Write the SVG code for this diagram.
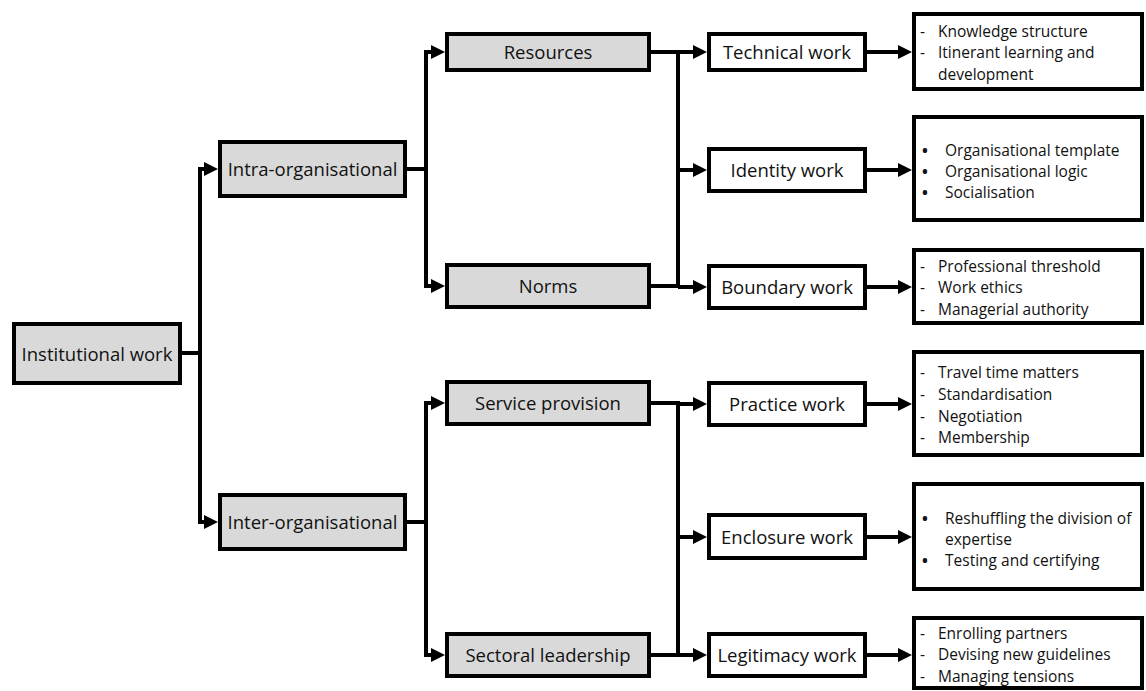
<svg xmlns="http://www.w3.org/2000/svg" width="1146" height="691" viewBox="0 0 1146 691">
<style>
.g{fill:#d9d9d9;stroke:#000;stroke-width:4}
.w{fill:#fff;stroke:#000;stroke-width:4}
.t{font-family:"Open Sans","Liberation Sans",sans-serif;font-size:18.5px;fill:#111;text-anchor:middle}
.l{font-family:"Open Sans","Liberation Sans",sans-serif;font-size:15.5px;fill:#111}
.b{font-family:"Open Sans","Liberation Sans",sans-serif;font-size:15.5px;fill:#111;font-weight:bold}
.c{fill:none;stroke:#000;stroke-width:4;marker-end:url(#ah)}
.n{fill:none;stroke:#000;stroke-width:4}
</style>
<defs>
<marker id="ah" markerUnits="userSpaceOnUse" markerWidth="14" markerHeight="14" refX="2" refY="7" orient="auto">
<path d="M0,0 L14,7 L0,14 z" fill="#000"/>
</marker>
</defs>
<rect width="1146" height="691" fill="#fff"/>
<g id="connectors">
<path class="n" d="M182,353 H200"/>
<path class="c" d="M200,353 V169 H206"/>
<path class="c" d="M200,353 V522 H206"/>
<path class="n" d="M407,169 H426"/>
<path class="c" d="M426,169 V52 H433"/>
<path class="c" d="M426,169 V286 H433"/>
<path class="n" d="M407,522 H426"/>
<path class="c" d="M426,522 V403 H433"/>
<path class="c" d="M426,522 V655 H433"/>
<path class="n" d="M651,52 H678 V287"/>
<path class="n" d="M651,286 H678"/>
<path class="c" d="M678,52 H695"/>
<path class="c" d="M678,170 H695"/>
<path class="c" d="M678,287 H695"/>
<path class="n" d="M651,403 H678 V655"/>
<path class="n" d="M651,655 H678"/>
<path class="c" d="M678,404 H695"/>
<path class="c" d="M678,537 H695"/>
<path class="c" d="M678,655 H695"/>
<path class="c" d="M867,52 H900"/>
<path class="c" d="M867,170 H900"/>
<path class="c" d="M867,287 H900"/>
<path class="c" d="M867,404 H900"/>
<path class="c" d="M867,537 H900"/>
<path class="c" d="M867,655 H900"/>
</g>
<g id="institutional-work"><rect class="g" x="14" y="324" width="166" height="59"/><text class="t" x="97" y="360.5">Institutional work</text></g>
<g id="intra-organisational"><rect class="g" x="220" y="142" width="185" height="54"/><text class="t" x="312.5" y="176">Intra-organisational</text></g>
<g id="inter-organisational"><rect class="g" x="220" y="495" width="185" height="54"/><text class="t" x="312.5" y="529">Inter-organisational</text></g>
<g id="resources"><rect class="g" x="447" y="34" width="202" height="36"/><text class="t" x="548" y="59">Resources</text></g>
<g id="norms"><rect class="g" x="447" y="265" width="202" height="42"/><text class="t" x="548" y="293">Norms</text></g>
<g id="service-provision"><rect class="g" x="447" y="382" width="202" height="42"/><text class="t" x="548" y="410">Service provision</text></g>
<g id="sectoral-leadership"><rect class="g" x="447" y="634" width="202" height="42"/><text class="t" x="548" y="662">Sectoral leadership</text></g>
<g id="technical-work"><rect class="w" x="709" y="34" width="156" height="36"/><text class="t" x="787" y="59">Technical work</text></g>
<g id="identity-work"><rect class="w" x="709" y="149" width="156" height="42"/><text class="t" x="787" y="177">Identity work</text></g>
<g id="boundary-work"><rect class="w" x="709" y="266" width="156" height="42"/><text class="t" x="787" y="294">Boundary work</text></g>
<g id="practice-work"><rect class="w" x="709" y="383" width="156" height="42"/><text class="t" x="787" y="411">Practice work</text></g>
<g id="enclosure-work"><rect class="w" x="709" y="515" width="156" height="43"/><text class="t" x="787" y="543.5">Enclosure work</text></g>
<g id="legitimacy-work"><rect class="w" x="709" y="634" width="156" height="42"/><text class="t" x="787" y="662">Legitimacy work</text></g>
<g id="technical-details"><rect class="w" x="914" y="14" width="228" height="75"/>
<text class="l" x="920" y="37">-</text><text class="l" x="938" y="37">Knowledge structure</text>
<text class="l" x="920" y="58">-</text><text class="l" x="938" y="58">Itinerant learning and</text>
<text class="l" x="938" y="80">development</text></g>
<g id="identity-details"><rect class="w" x="914" y="117" width="228" height="103"/>
<text class="b" x="922" y="156">•</text><text class="l" x="945" y="156">Organisational template</text>
<text class="b" x="922" y="177">•</text><text class="l" x="945" y="177">Organisational logic</text>
<text class="b" x="922" y="198">•</text><text class="l" x="945" y="198">Socialisation</text></g>
<g id="boundary-details"><rect class="w" x="914" y="250" width="228" height="73"/>
<text class="l" x="920" y="272">-</text><text class="l" x="938" y="272">Professional threshold</text>
<text class="l" x="920" y="293">-</text><text class="l" x="938" y="293">Work ethics</text>
<text class="l" x="920" y="315">-</text><text class="l" x="938" y="315">Managerial authority</text></g>
<g id="practice-details"><rect class="w" x="914" y="352" width="228" height="103"/>
<text class="l" x="920" y="378">-</text><text class="l" x="938" y="378">Travel time matters</text>
<text class="l" x="920" y="400">-</text><text class="l" x="938" y="400">Standardisation</text>
<text class="l" x="920" y="422">-</text><text class="l" x="938" y="422">Negotiation</text>
<text class="l" x="920" y="443">-</text><text class="l" x="938" y="443">Membership</text></g>
<g id="enclosure-details"><rect class="w" x="914" y="484" width="228" height="105"/>
<text class="b" x="922" y="524">•</text><text class="l" x="945" y="524">Reshuffling the division of</text>
<text class="l" x="945" y="545">expertise</text>
<text class="b" x="922" y="566">•</text><text class="l" x="945" y="566">Testing and certifying</text></g>
<g id="legitimacy-details"><rect class="w" x="914" y="618" width="228" height="70"/>
<text class="l" x="920" y="639">-</text><text class="l" x="938" y="639">Enrolling partners</text>
<text class="l" x="920" y="660">-</text><text class="l" x="938" y="660">Devising new guidelines</text>
<text class="l" x="920" y="682">-</text><text class="l" x="938" y="682">Managing tensions</text></g>
</svg>
